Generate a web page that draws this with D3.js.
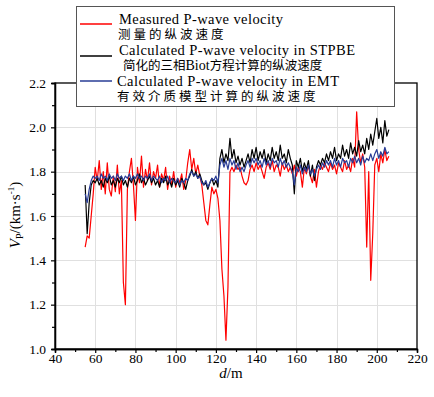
<!DOCTYPE html>
<html><head><meta charset="utf-8">
<script src="https://cdn.jsdelivr.net/npm/d3@7"></script>
<style>
html,body{margin:0;padding:0;background:#fff;}
svg{display:block;}
</style></head>
<body>
<svg id="chart" width="434" height="397"></svg>
<script>
// ---- data ----
const depthStart = 55, depthEnd = 206;
const depths = d3.range(depthStart, depthEnd + 1); // d / m, 1 m sampling

const measured = [
1.46,1.51,1.50,1.60,1.70,1.82,
1.76,1.85,1.72,1.80,1.70,1.84,1.72,1.69,1.78,1.71,
1.83,1.70,1.76,1.30,1.20,1.72,1.80,1.86,1.74,1.58,
1.82,1.75,1.87,1.73,1.81,1.76,1.84,1.74,1.80,1.77,
1.83,1.73,1.79,1.76,1.82,1.72,1.78,1.74,1.80,1.73,
1.77,1.75,1.79,1.72,1.76,1.84,1.90,1.81,1.86,1.79,
1.83,1.78,1.74,1.66,1.58,1.56,1.65,1.73,1.70,1.72,
1.68,1.58,1.36,1.24,1.04,1.28,1.80,1.82,1.80,1.83,
1.81,1.82,1.78,1.75,1.74,1.76,1.81,1.83,1.80,1.84,
1.81,1.83,1.80,1.77,1.82,1.84,1.81,1.85,1.80,1.83,
1.82,1.78,1.84,1.81,1.83,1.80,1.82,1.79,1.83,1.78,
1.82,1.80,1.73,1.82,1.79,1.83,1.78,1.75,1.81,1.73,
1.80,1.83,1.81,1.84,1.82,1.80,1.84,1.81,1.83,1.79,
1.84,1.82,1.80,1.85,1.81,1.83,1.80,1.86,1.82,2.07,
1.90,1.84,1.88,1.82,1.46,1.80,1.31,1.52,1.83,1.86,
1.80,1.88,1.84,1.90,1.85,1.87];

const stpbe = [
1.74,1.52,1.66,1.74,1.76,1.75,
1.77,1.74,1.76,1.73,1.77,1.75,1.78,1.74,1.76,1.73,
1.77,1.75,1.78,1.74,1.76,1.73,1.77,1.75,1.78,1.74,
1.76,1.79,1.75,1.77,1.74,1.76,1.78,1.75,1.77,1.74,
1.76,1.73,1.77,1.75,1.78,1.74,1.76,1.73,1.77,1.74,
1.76,1.73,1.77,1.75,1.72,1.76,1.78,1.81,1.78,1.80,
1.77,1.79,1.76,1.74,1.75,1.72,1.75,1.77,1.74,1.76,
1.73,1.86,1.90,1.84,1.88,1.85,1.95,1.86,1.90,1.84,
1.87,1.83,1.86,1.82,1.85,1.88,1.84,1.90,1.86,1.91,
1.85,1.89,1.86,1.90,1.84,1.88,1.85,1.91,1.86,1.89,
1.85,1.92,1.86,1.88,1.84,1.90,1.86,1.83,1.70,1.85,
1.82,1.86,1.80,1.84,1.81,1.85,1.78,1.83,1.76,1.82,
1.85,1.83,1.86,1.84,1.88,1.85,1.89,1.86,1.91,1.85,
1.88,1.86,1.92,1.87,1.90,1.86,1.93,1.88,1.91,1.87,
1.94,1.89,1.92,1.88,1.95,1.90,1.97,1.92,1.98,2.04,
1.95,2.00,1.93,2.03,1.96,1.99];

const emt = [
1.70,1.66,1.72,1.76,1.78,1.77,
1.78,1.76,1.79,1.77,1.78,1.76,1.79,1.77,1.78,1.76,
1.79,1.77,1.78,1.76,1.78,1.77,1.79,1.76,1.78,1.77,
1.79,1.77,1.78,1.76,1.78,1.77,1.79,1.76,1.78,1.77,
1.76,1.78,1.75,1.77,1.76,1.78,1.75,1.77,1.76,1.75,
1.77,1.74,1.76,1.75,1.77,1.76,1.79,1.80,1.78,1.79,
1.77,1.78,1.75,1.74,1.76,1.73,1.75,1.77,1.76,1.78,
1.75,1.83,1.86,1.82,1.85,1.81,1.86,1.83,1.85,1.81,
1.84,1.80,1.82,1.80,1.83,1.85,1.82,1.86,1.84,1.86,
1.83,1.85,1.82,1.86,1.83,1.85,1.82,1.86,1.84,1.85,
1.82,1.86,1.83,1.85,1.82,1.84,1.82,1.80,1.74,1.82,
1.80,1.83,1.79,1.82,1.80,1.83,1.79,1.81,1.78,1.81,
1.83,1.81,1.84,1.82,1.85,1.83,1.85,1.82,1.86,1.83,
1.85,1.82,1.86,1.84,1.85,1.82,1.86,1.84,1.87,1.84,
1.86,1.83,1.87,1.84,1.86,1.85,1.88,1.85,1.88,1.90,
1.86,1.89,1.87,1.91,1.88,1.89];

const xTicks = [40,60,80,100,120,140,160,180,200,220];
const xMinor = [50,70,90,110,130,150,170,190,210];
const yTicks = [1.0,1.2,1.4,1.6,1.8,2.0,2.2];
const yMinor = [1.1,1.3,1.5,1.7,1.9,2.1];

const legendEn = ["Measured P-wave velocity","Calculated P-wave velocity in STPBE","Calculated P-wave velocity in EMT"];
const legendZh = ["测量的纵波速度","简化的三相Biot方程计算的纵波速度","有效介质模型计算的纵波速度"];
const colors = ["#ff0000","#000000","#283c96"];

// ---- drawing ----
const svg = d3.select("#chart");
const serif = "'Liberation Serif','Times New Roman',serif";
const cjk = "'Liberation Serif','Noto Sans CJK SC','Noto Sans CJK JP',serif";

const L = 55, R = 417, T = 83, B = 349;
const x = d3.scaleLinear().domain([40,220]).range([L,R]);
const y = d3.scaleLinear().domain([1.0,2.2]).range([B,T]);

// grid
const grid = svg.append("g").attr("stroke","#e0e0e0").attr("stroke-width",1);
xTicks.slice(1,-1).forEach(t=>grid.append("line").attr("x1",Math.round(x(t))+0.5).attr("x2",Math.round(x(t))+0.5).attr("y1",T).attr("y2",B));
yTicks.slice(1,-1).forEach(t=>grid.append("line").attr("y1",Math.round(y(t))+0.5).attr("y2",Math.round(y(t))+0.5).attr("x1",L).attr("x2",R));

// lines
const series = [measured, stpbe, emt];
series.forEach((s,i)=>{
  const line = d3.line().x((d,j)=>x(depths[j])).y(d=>y(d));
  svg.append("path").datum(s).attr("d",line).attr("fill","none")
    .attr("stroke",colors[i]).attr("stroke-width",1.2).attr("stroke-linejoin","round");
});

// frame
svg.append("rect").attr("x",L).attr("y",T).attr("width",R-L).attr("height",B-T)
  .attr("fill","none").attr("stroke","#000").attr("stroke-width",1.3);

// axes
svg.append("g").attr("transform",`translate(0,${B})`)
  .call(d3.axisBottom(x).tickValues(xTicks).tickSize(4).tickPadding(0).tickFormat(d3.format("d")));
svg.append("g").attr("transform",`translate(0,${B})`)
  .call(d3.axisBottom(x).tickValues(xMinor).tickSize(3).tickFormat(""));
svg.append("g").attr("transform",`translate(${L},0)`)
  .call(d3.axisLeft(y).tickValues(yTicks).tickSize(4).tickPadding(5).tickFormat(d3.format(".1f")));
svg.append("g").attr("transform",`translate(${L},0)`)
  .call(d3.axisLeft(y).tickValues(yMinor).tickSize(3).tickFormat(""));
svg.selectAll(".domain").attr("stroke","#000").attr("stroke-width",1.3);
svg.selectAll(".tick line").attr("stroke","#000").attr("stroke-width",1.2);
svg.selectAll(".tick text").style("font-family",serif).style("font-size","13.5px").attr("fill","#000");

// axis titles
svg.append("text").attr("x",231).attr("y",378).attr("text-anchor","middle")
  .style("font-family",serif).style("font-size","15px")
  .call(t=>{t.append("tspan").attr("font-style","italic").text("d");t.append("tspan").text("/m");});

const yt = svg.append("text").attr("transform","translate(20,215) rotate(-90)")
  .attr("text-anchor","middle").style("font-family",serif).style("font-size","15px");
yt.append("tspan").attr("font-style","italic").text("V");
yt.append("tspan").style("font-size","10px").attr("dy","3").text("P");
yt.append("tspan").attr("dy","-3").text("/(km·s");
yt.append("tspan").style("font-size","9px").attr("dy","-6").text("-1");
yt.append("tspan").attr("dy","6").text(")");

// legend
const lg = svg.append("g");
lg.append("rect").attr("x",76.5).attr("y",6.5).attr("width",318).attr("height",100)
  .attr("fill","#fff").attr("stroke","#555").attr("stroke-width",1);
const lineYs = [24,56,81];
const enY = [24,55,86];
const zhY = [39,70,101];
const enX = [119,119,117];
const zhX = [118,123,117];
const enLen = [164,236,222];
legendEn.forEach((t,i)=>{
  lg.append("line").attr("x1",80).attr("x2",112).attr("y1",lineYs[i]).attr("y2",lineYs[i])
    .attr("stroke",colors[i]).attr("stroke-width",1.5);
  lg.append("text").attr("x",enX[i]).attr("y",enY[i]).style("font-family",serif).style("font-size","14.5px")
    .attr("textLength",enLen[i]).attr("lengthAdjust","spacing").text(t);
});
// zh lines
lg.append("text").attr("x",zhX[0]).attr("y",zhY[0]).style("font-family",cjk).style("font-size","12.5px")
  .style("letter-spacing","3px").text(legendZh[0]);
const z2 = lg.append("text").attr("x",zhX[1]).attr("y",zhY[1]).style("font-family",cjk).style("font-size","12.5px");
const parts = legendZh[1].split("Biot");
z2.append("tspan").text(parts[0]);
z2.append("tspan").style("font-size","14px").text("Biot");
z2.append("tspan").text(parts[1]);
lg.append("text").attr("x",zhX[2]).attr("y",zhY[2]).style("font-family",cjk).style("font-size","12.5px")
  .style("letter-spacing","3px").text(legendZh[2]);
</script>
</body></html>
